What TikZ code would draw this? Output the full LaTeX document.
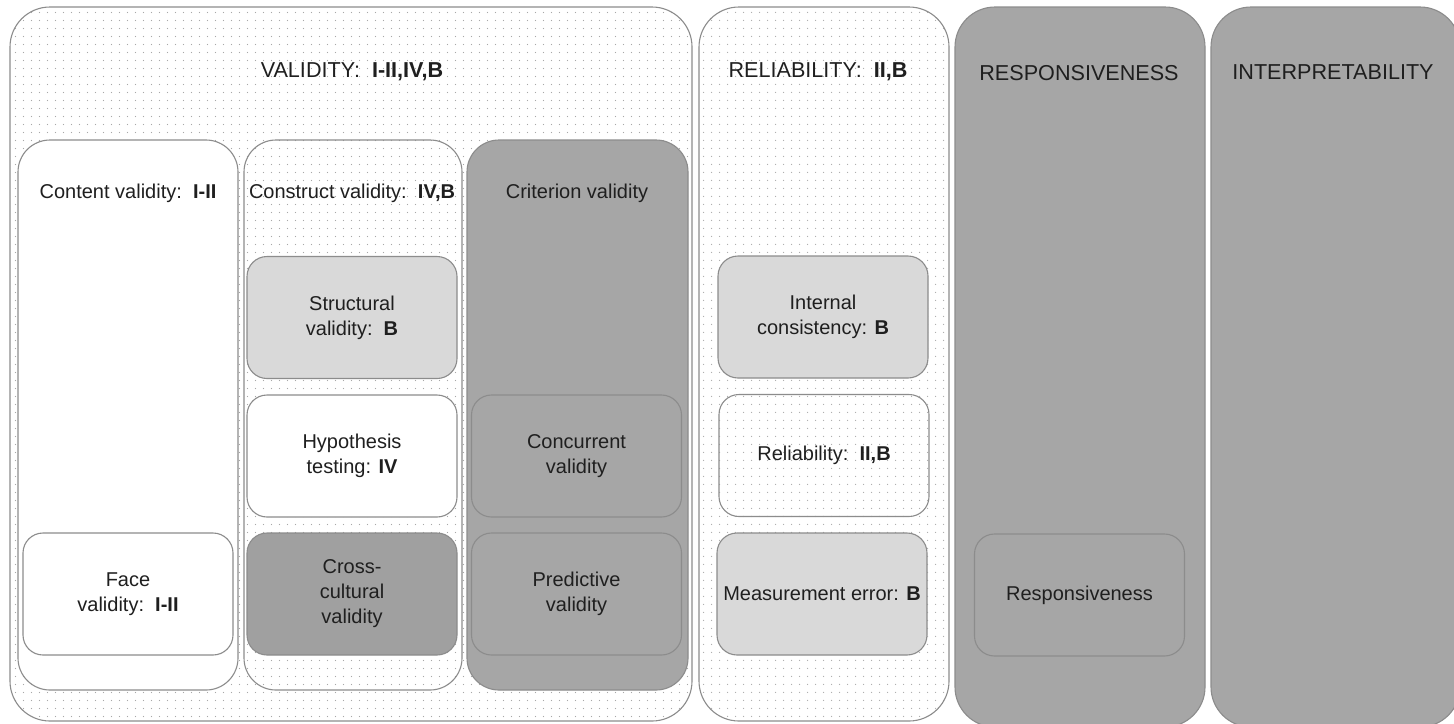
\documentclass[tikz,border=0pt]{standalone}
\usepackage{fontspec}
\setmainfont{Liberation Sans}
\usetikzlibrary{patterns.meta, positioning}
\definecolor{cdark}{HTML}{A6A6A6}
\definecolor{cdeep}{HTML}{A0A0A0}
\definecolor{clight}{HTML}{D9D9D9}
\definecolor{cedge}{HTML}{8C8C8C}
\definecolor{cdot}{HTML}{A8A8A8}
\definecolor{ctext}{HTML}{1F1F1F}
\tikzset{
  % colonna esterna (una proprieta)
  column/.style={draw=cedge, line width=0.55pt, rounded corners=20pt},
  % sfondo a puntini
  dotbg/.style={pattern={Dots[distance=4pt, radius=0.35pt]}, pattern color=cdot},
  % gruppo interno
  group/.style={draw=cedge, line width=0.55pt, rounded corners=16pt},
  % scheda di una misura
  card/.style={draw=cedge, line width=0.55pt, rounded corners=10pt, minimum width=105pt,
    minimum height=61pt, inner sep=1pt, align=center},
  % testo
  lbl/.style={font=\fontsize{10}{12.5}\selectfont, text=ctext, align=center},
  title/.style={font=\fontsize{10.8}{13}\selectfont},
}

\begin{document}
\begin{tikzpicture}[x=0.5pt, y=-0.5pt, every node/.style={lbl}]
  \fill[white] (0,0) rectangle (1454,723);
  \useasboundingbox (0,0) rectangle (1454,723);
  \draw[column, dotbg] (10,7) rectangle (692,721);
  \draw[column, dotbg] (699,7) rectangle (949,721);
  \draw[column, fill=cdark] (955,7) rectangle (1205,727);
  \draw[column, fill=cdark] (1211,7) rectangle (1460,727);
  \node[title] (tvalid) at (352,72) {VALIDITY:\ \ \textbf{I-II,IV,B}};
  \node[title] (trel) at (818,72) {RELIABILITY:\ \ \textbf{II,B}};
  \node[title] (tresp) at (1079,73) {RESPONSIVENESS};
  \node[title] (tinterp) at (1333,72) {INTERPRETABILITY};
  \draw[group, fill=white] (18,140) rectangle (238,690);
  \draw[group] (244,140) rectangle (462,690);
  \draw[group, fill=cdark] (467,140) rectangle (688,690);
  \node (lcontent) at (128,193) {Content validity:\ \ \textbf{I-II}};
  \node (lconstruct) at (352,193) {Construct validity:\ \ \textbf{IV,B}};
  \node (lcriterion) at (577,193) {Criterion validity};
  \node[card, fill=white] (face) at (128,594) {Face\\validity:\ \ \textbf{I-II}};
  \node[card, fill=clight] (struct) at (352,317.5) {Structural\\validity:\ \ \textbf{B}};
  \node[card, fill=white] (hyp) at (352,456) {Hypothesis\\testing: \textbf{IV}};
  \node[card, fill=cdeep] (cross) at (352,594) {Cross-\\cultural\\validity};
  \node[card, fill=cdark] (conc) at (576.5,456) {Concurrent\\validity};
  \node[card, fill=cdark] (pred) at (576.5,594) {Predictive\\validity};
  \node[card, fill=clight] (intc) at (823,317) {Internal\\consistency: \textbf{B}};
  \node[card] (rel) at (824,455.5) {Reliability:\ \ \textbf{II,B}};
  \node[card, fill=clight] (meas) at (822,594) {Measurement error: \textbf{B}};
  \node[card, fill=cdark] (resp) at (1079.5,595) {Responsiveness};
\end{tikzpicture}
\end{document}
